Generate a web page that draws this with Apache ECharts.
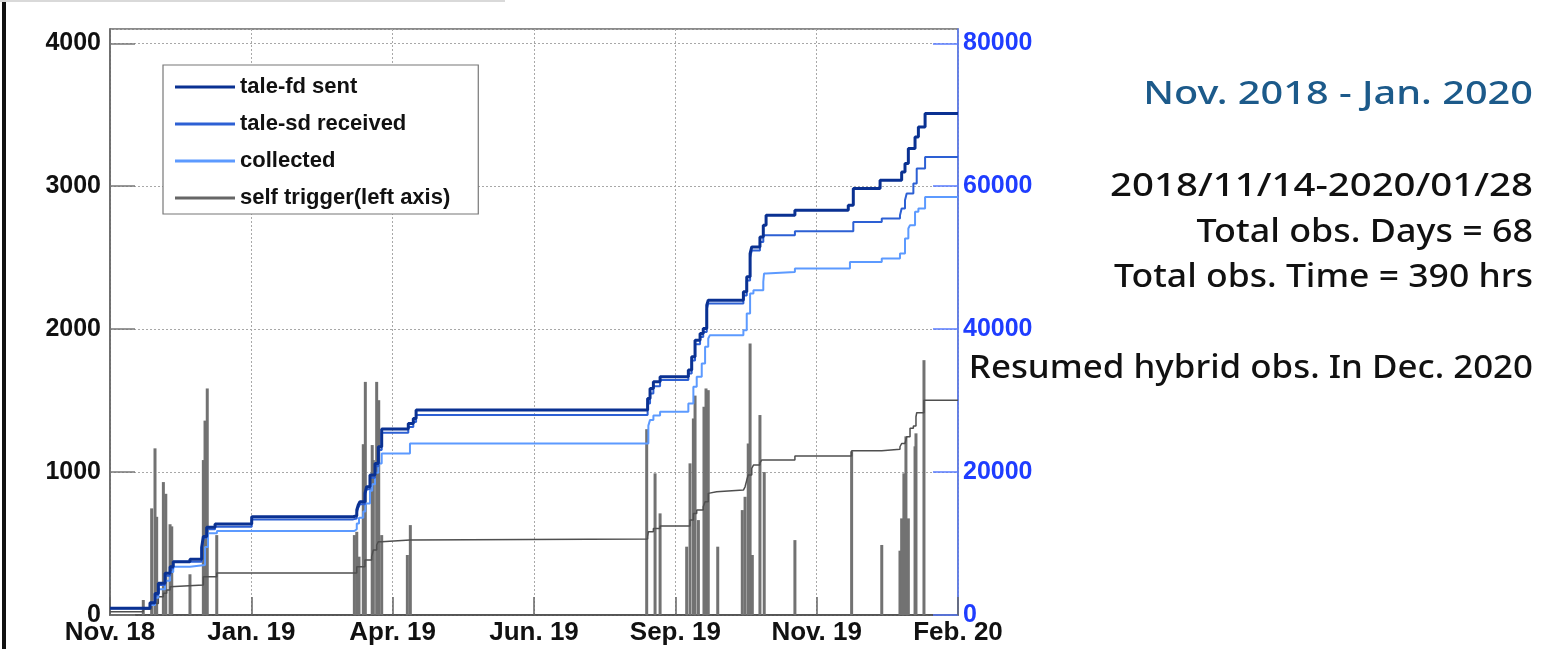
<!DOCTYPE html>
<html>
<head>
<meta charset="utf-8">
<title>TALE hybrid trigger</title>
<script src="https://cdn.jsdelivr.net/npm/echarts@6.0.0/dist/echarts.min.js"></script>
<style>
html, body { margin: 0; padding: 0; background: #fff; }
#main { width: 1562px; height: 649px; }
</style>
</head>
<body>
<div id="main"></div>
<script>
// x = days since 2018-11-01, one tick every 76 days
var xTickLabels = ['Nov. 18', 'Jan. 19', 'Apr. 19', 'Jun. 19', 'Sep. 19', 'Nov. 19', 'Feb. 20'];
var legendNames = ['tale-fd sent', 'tale-sd received', 'collected', 'self trigger(left axis)'];

// cumulative counts (right axis), [day, value]
var fdSent = [
    [0, 950], [21.5, 1700], [24.2, 3000], [26.0, 4430], [29.6, 5830], [32.3, 6750], [34.0, 7450],
    [43.0, 7790], [49.3, 9500], [50.2, 11000], [52.0, 12270], [56.5, 12730], [76.2, 13750],
    [130.8, 13890], [132.7, 14690], [133.5, 15390], [134.4, 15850], [137.1, 17020], [138.0, 17950],
    [139.8, 19580], [142.5, 21210], [144.3, 23540], [146.1, 26010], [160.4, 26810], [163.1, 27510],
    [164.6, 28670], [289.1, 30310], [290.4, 31710], [292.2, 32630], [295.8, 33330], [311.0, 34270],
    [312.8, 36130], [314.6, 38460], [317.3, 39400], [319.0, 40100], [320.9, 43360], [321.7, 44060],
    [340.6, 45220], [342.4, 47320], [344.2, 50580], [345.1, 51510], [349.5, 52910], [351.3, 54550],
    [352.8, 55940], [368.3, 56640], [397.0, 57340], [399.7, 59680], [414.1, 60840], [425.7, 62000],
    [427.5, 63180], [429.3, 65270], [432.9, 66900], [434.7, 68290], [438.3, 70170], [456, 70170]
];
var sdReceived = [
    [0, 950], [21.5, 1600], [24.2, 2800], [26.0, 4200], [29.6, 5500], [32.3, 6500], [34.0, 7450],
    [49.3, 9300], [50.2, 10800], [52.0, 12000], [56.5, 12350], [76.2, 13380],
    [130.8, 13500], [132.7, 14300], [133.5, 15000], [134.4, 15500], [137.1, 16700], [138.0, 17600],
    [139.8, 19200], [142.5, 20800], [144.3, 23100], [146.1, 25500], [160.4, 26300], [163.1, 27000],
    [164.6, 27970], [289.1, 29600], [290.4, 31000], [292.2, 32000], [295.8, 32870], [311.0, 33800],
    [312.8, 35600], [314.6, 37900], [317.3, 38900], [319.0, 39600], [320.9, 42800], [321.7, 43590],
    [340.6, 44700], [342.4, 46800], [344.2, 50000], [345.1, 51000], [349.5, 52200], [351.3, 53150],
    [368.3, 53710], [399.7, 55010], [415.0, 55480], [424.8, 55940], [425.7, 56880], [427.5, 58040],
    [428.4, 58970], [432.0, 60370], [433.8, 62470], [438.3, 64100], [456, 64100]
];
var collected = [
    [0, 950], [21.5, 1400], [24.2, 2400], [26.0, 3600], [29.6, 4800], [32.3, 6000], [34.0, 6750],
    [43.0, 6990], [51.1, 9500], [52.7, 11430], [57.5, 11750],
    [131.4, 12000], [132.7, 12800], [133.9, 13600], [136.2, 14500], [137.3, 15600], [139.8, 17400],
    [141.0, 18300], [142.5, 19900], [144.3, 21200], [146.1, 22610], [161.3, 24010],
    [289.5, 26500], [290.4, 27300], [292.2, 27900], [295.8, 28440], [311.0, 29610], [313.7, 31940],
    [315.5, 33330], [318.2, 35200], [320.0, 37530], [321.7, 38700], [322.6, 39160],
    [340.6, 39860], [342.4, 42200], [344.2, 44990], [346.0, 45460], [351.3, 46620], [351.7, 47790],
    [352.8, 48010], [368.3, 48490], [397.9, 49410], [415.0, 49890], [424.8, 50590], [427.5, 52690],
    [429.3, 54080], [430.2, 54550], [432.9, 56410], [434.7, 56880], [438.3, 58500], [456, 58500]
];

// self trigger (left axis): cumulative line and per-run spikes
var selfTriggerTotal = [
    [0, 23], [17.9, 40], [22.0, 80], [26.0, 128], [28.7, 152], [30.5, 175], [32.3, 198], [33.2, 210],
    [50.2, 268], [57.4, 294], [132.7, 338], [137.1, 385], [140.7, 408], [141.6, 455], [143.4, 490],
    [144.3, 513], [146.1, 524], [161.3, 531], [289.1, 548], [289.5, 583], [292.2, 606], [295.8, 622],
    [311.9, 664], [313.7, 711], [315.5, 734], [319.0, 757], [320.0, 792], [321.7, 851], [322.6, 862],
    [326.2, 874], [340.6, 879], [341.5, 897], [342.4, 944], [343.2, 979], [345.1, 1026], [346.0, 1049],
    [349.5, 1065], [350.4, 1084], [368.3, 1112], [398.8, 1149], [415.0, 1159], [424.8, 1177],
    [425.7, 1200], [427.5, 1212], [428.4, 1247], [430.2, 1306], [432.0, 1322], [433.4, 1387],
    [433.8, 1415], [437.7, 1503], [456, 1503]
];
var selfTriggerRuns = [
    [17.9, 105], [22.4, 746], [24.2, 1166], [25.1, 687], [28.7, 930], [30.0, 848], [32.3, 635],
    [33.2, 620], [43.0, 285], [50.2, 1084], [51.1, 1360], [52.3, 1585], [57.4, 559],
    [131.4, 559], [132.7, 582], [133.9, 408], [136.2, 1195], [137.3, 1631], [141.0, 1189],
    [141.6, 1084], [143.4, 1631], [144.5, 1503], [146.1, 559], [159.9, 420], [161.5, 629],
    [288.6, 1300], [293.1, 991], [295.8, 711], [310.1, 478], [311.9, 1061], [313.7, 1375],
    [314.6, 1535], [316.4, 664], [319.4, 1457], [320.5, 1585], [321.7, 1573], [326.8, 478],
    [340.0, 734], [341.5, 827], [343.2, 1200], [344.2, 1900], [345.4, 420], [349.5, 1399],
    [351.8, 1000], [368.3, 524], [398.8, 1145], [415.0, 490], [424.8, 450], [425.7, 676],
    [426.9, 991], [428.0, 1250], [429.3, 676], [432.9, 1180], [433.4, 1271], [437.7, 1783]
];

var periodText = 'Nov. 2018 - Jan. 2020';
var infoLines = ['2018/11/14-2020/01/28', 'Total obs. Days = 68', 'Total obs. Time = 390 hrs'];
var resumeText = 'Resumed hybrid obs. In Dec. 2020';

var axisFont = 'Liberation Sans, Arial, sans-serif';
var noteFont = '500 32px "Noto Sans", sans-serif';

// right hand notes, anchored on their right edge
function note(text, y, sx, color) {
    return {
        type: 'text', x: 1533, y: y, scaleX: sx,
        style: {
            text: text, font: noteFont, fill: color || '#111',
            align: 'right', verticalAlign: 'middle', textAlign: 'right', textVerticalAlign: 'middle'
        }
    };
}

var myChart = echarts.init(document.getElementById('main'));

myChart.setOption({
    animation: false,
    grid: {
        left: 110,
        right: 604,
        top: 29,
        bottom: 34,
        show: true,
        borderColor: '#666',
        borderWidth: 1.5
    },
    legend: {
        orient: 'vertical',
        left: 163,
        top: 65,
        data: legendNames,
        selectedMode: false,
        icon: 'rect',
        itemWidth: 60,
        itemHeight: 3,
        itemGap: 15,
        padding: [11, 28, 5, 12],
        borderColor: '#777',
        borderWidth: 1.2,
        backgroundColor: '#fff',
        textStyle: {
            fontFamily: axisFont,
            fontWeight: 'bold',
            fontSize: 22,
            color: '#111'
        }
    },
    xAxis: {
        type: 'value',
        min: 0,
        max: 456,
        interval: 76,
        axisLine: { lineStyle: { color: '#444', width: 1.5 } },
        axisTick: { inside: true, length: 18, lineStyle: { color: '#666', width: 1.5 } },
        axisLabel: {
            margin: 5,
            fontFamily: axisFont,
            fontWeight: 'bold',
            fontSize: 26,
            color: '#111',
            formatter: function (v) {
                return xTickLabels[Math.round(v / 76)] || '';
            }
        },
        splitLine: { show: true, lineStyle: { color: '#a8a8a8', type: [2, 2], width: 1 } }
    },
    yAxis: [{
        type: 'value',
        min: 0,
        max: 4100,
        interval: 1000,
        position: 'left',
        axisLine: { show: true, lineStyle: { color: '#666', width: 1.5 } },
        axisTick: { show: true, inside: true, length: 25, lineStyle: { color: '#777', width: 1.5 } },
        axisLabel: {
            margin: 9,
            showMaxLabel: false,
            fontFamily: axisFont,
            fontWeight: 'bold',
            fontSize: 25,
            color: '#111',
            formatter: function (v) { return String(v); }
        },
        splitLine: { show: true, lineStyle: { color: '#a8a8a8', type: [2, 2], width: 1 } }
    }, {
        type: 'value',
        min: 0,
        max: 82000,
        interval: 20000,
        position: 'right',
        axisLine: { show: true, lineStyle: { color: '#5a7cff', width: 1.5 } },
        axisTick: { show: true, inside: true, length: 25, lineStyle: { color: '#5a7cff', width: 1.5 } },
        axisLabel: {
            margin: 5,
            showMaxLabel: false,
            fontFamily: axisFont,
            fontWeight: 'bold',
            fontSize: 25,
            color: '#1f3dff',
            formatter: function (v) { return String(v); }
        },
        splitLine: { show: false }
    }],
    graphic: [
        { type: 'rect', shape: { x: 2, y: 0, width: 4, height: 649 }, style: { fill: '#111' } },
        { type: 'rect', shape: { x: 0, y: 0, width: 505, height: 2 }, style: { fill: '#d9d9d9' } },
        note(periodText, 95, 1.24, '#1c5a8a'),
        note(infoLines[0], 187, 1.2),
        note(infoLines[1], 233, 1.12),
        note(infoLines[2], 278, 1.11),
        note(resumeText, 369, 1.09)
    ],
    series: [{
        name: 'self trigger runs',
        type: 'bar',
        yAxisIndex: 0,
        data: selfTriggerRuns,
        barWidth: 3,
        itemStyle: { color: '#727272' },
        z: 1
    }, {
        name: 'self trigger(left axis)',
        type: 'line',
        step: 'end',
        yAxisIndex: 0,
        data: selfTriggerTotal,
        symbol: 'none',
        lineStyle: { color: '#4f4f4f', width: 1.5 },
        itemStyle: { color: '#666' },
        z: 2
    }, {
        name: 'collected',
        type: 'line',
        step: 'end',
        yAxisIndex: 1,
        data: collected,
        symbol: 'none',
        lineStyle: { color: '#5c9aff', width: 2 },
        itemStyle: { color: '#5c9aff' },
        z: 3
    }, {
        name: 'tale-sd received',
        type: 'line',
        step: 'end',
        yAxisIndex: 1,
        data: sdReceived,
        symbol: 'none',
        lineStyle: { color: '#2d60d4', width: 2 },
        itemStyle: { color: '#2d60d4' },
        z: 4
    }, {
        name: 'tale-fd sent',
        type: 'line',
        step: 'end',
        yAxisIndex: 1,
        data: fdSent,
        symbol: 'none',
        lineStyle: { color: '#0a3192', width: 3 },
        itemStyle: { color: '#0a3192' },
        z: 5
    }]
});
</script>
</body>
</html>
